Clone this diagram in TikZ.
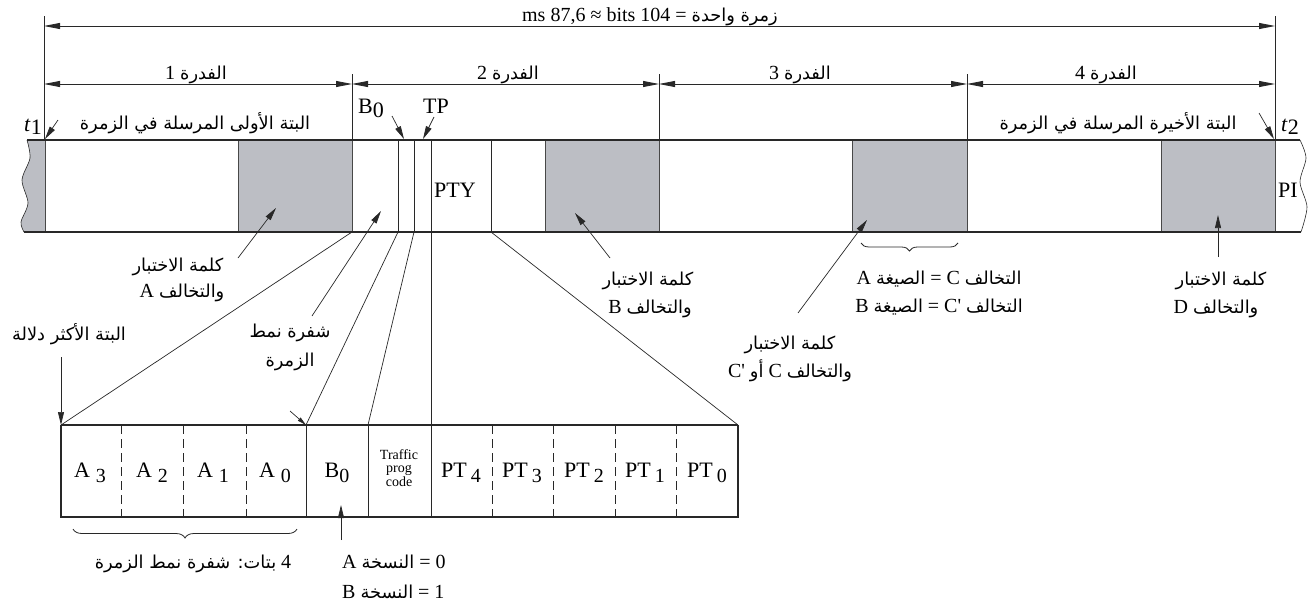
\documentclass[tikz,border=0pt]{standalone}
\usepackage{fontspec}
\setmainfont{Liberation Serif}
\newfontfamily\arabicfont[Script=Arabic,Scale=0.89]{DejaVu Sans}
\TeXXeTstate=1
\usetikzlibrary{arrows.meta,decorations.pathreplacing}
\newcommand{\artext}[1]{{\arabicfont\beginR #1\endR}}
\newcommand{\lowsub}[3]{#1\hspace{#3}\raisebox{-5pt}{\fontsize{20}{20}\selectfont #2}}
\newcommand{\sq}{\textquotesingle}
\definecolor{cellgrey}{RGB}{188,190,196}
\definecolor{ink}{RGB}{40,40,40}
\begin{document}
\begin{tikzpicture}[x=1pt,y=-1pt,
  dimline/.style={draw=ink, line width=0.8pt, {Triangle[length=16pt,width=6pt]}-{Triangle[length=16pt,width=6pt]}},
  ptr/.style={draw=ink, line width=0.7pt, -{Triangle[length=13pt,width=6pt]}},
  thinline/.style={draw=ink, line width=0.7pt},
  cellline/.style={draw=ink!85, line width=0.8pt},
  dashline/.style={draw=ink, line width=0.7pt, dash pattern=on 9pt off 5pt},
  lbl/.style={inner sep=0pt, anchor=base, font=\fontsize{20}{24}\selectfont},
  big/.style={inner sep=0pt, anchor=base, font=\fontsize{22}{26}\selectfont},
]
\useasboundingbox (0,0) rectangle (1312,608);

% ---------- top dimension ----------
\node[lbl] (total) at (650,21) {ms 87,6 ≈ bits 104 = \artext{زمرة واحدة}};
\coordinate (d0) at (44,26);
\coordinate (d4) at (1275,26);
\draw[dimline] (d0) -- (d4);
\coordinate (e0t) at (44,16);  \coordinate (e0b) at (44,140);
\coordinate (e4t) at (1275,16); \coordinate (e4b) at (1275,140);
\draw[thinline] (e0t) -- (e0b);
\draw[thinline] (e4t) -- (e4b);

% ---------- block dimensions ----------
\coordinate (s0) at (44,84);
\coordinate (s1) at (352,84);
\coordinate (s2) at (659,84);
\coordinate (s3) at (967,84);
\coordinate (s4) at (1275,84);
\draw[dimline] (s0) -- (s1);
\draw[dimline] (s1) -- (s2);
\draw[dimline] (s2) -- (s3);
\draw[dimline] (s3) -- (s4);
\foreach \x in {352,659,967} { \draw[thinline] (\x,74) -- (\x,140); }
\node[lbl] (blk1) at (196,79) {1 \artext{الفدرة}};
\node[lbl] (blk2) at (508,79) {2 \artext{الفدرة}};
\node[lbl] (blk3) at (800,79) {3 \artext{الفدرة}};
\node[lbl] (blk4) at (1106,79) {4 \artext{الفدرة}};

% ---------- band ----------
\fill[cellgrey] plot[smooth] coordinates {(27,140) (30,158) (22,180) (28,203) (21,222) (24,232)} -- (45,232) -- (45,140) -- cycle;
\draw[ink, line width=0.6pt] plot[smooth] coordinates {(27,140) (30,158) (22,180) (28,203) (21,222) (24,232)};
\fill[cellgrey] (238,140) rectangle (352,232);
\fill[cellgrey] (545,140) rectangle (659,232);
\fill[cellgrey] (852,140) rectangle (967,232);
\fill[cellgrey] (1161,140) rectangle (1275,232);
\foreach \x in {45,238,352,545,659,852,967,1161,1275} { \draw[cellline] (\x,140) -- (\x,232); }
\foreach \x in {398,414,431,491} { \draw[thinline] (\x,140) -- (\x,232); }
\draw[ink, line width=0.6pt] plot[smooth] coordinates {(1300,140) (1306,158) (1300,182) (1307,207) (1301,232)};
\draw[ink, line width=2.6pt] (27,140) -- (1300,140);
\draw[ink, line width=2.6pt] (24,232) -- (1301,232);
\node[big] (pty) at (455,197) {PTY};
\node[big] (pi) at (1288,197) {PI};

% ---------- labels above band ----------
\node[big] (t1) at (33,131) {\textit{t}\raisebox{-3pt}{1}};
\coordinate (t1a) at (58,120); \coordinate (t1b) at (45,139);
\draw[ptr] (t1a) -- (t1b);
\node[lbl] (first) at (195,129) {\artext{البتة الأولى المرسلة في الزمرة}};
\node[big] (b0top) at (371,113) {B\raisebox{-4pt}{0}};
\coordinate (b0a) at (392,116); \coordinate (b0b) at (404,139);
\draw[ptr] (b0a) -- (b0b);
\node[big] (tp) at (436,113) {TP};
\coordinate (tpa) at (434,117); \coordinate (tpb) at (423,139);
\draw[ptr] (tpa) -- (tpb);
\node[lbl] (last) at (1118,129) {\artext{البتة الأخيرة المرسلة في الزمرة}};
\node[big] (t2) at (1290,131) {\textit{t}\raisebox{-3pt}{2}};
\coordinate (t2a) at (1259,113); \coordinate (t2b) at (1274,139);
\draw[ptr] (t2a) -- (t2b);

% ---------- labels below band ----------
\node[lbl] (ckA1) at (178,271) {\artext{كلمة الاختبار}};
\node[lbl] (ckA2) at (182,297) {A \artext{والتخالف}};
\coordinate (pA0) at (238,258); \coordinate (pA1) at (276,208);
\draw[ptr] (pA0) -- (pA1);

\node[lbl] (gt1) at (290,337) {\artext{شفرة نمط}};
\node[lbl] (gt2) at (290,366) {\artext{الزمرة}};
\coordinate (pG0) at (312,316); \coordinate (pG1) at (381,211);
\draw[ptr] (pG0) -- (pG1);

\node[lbl] (ckB1) at (648,285) {\artext{كلمة الاختبار}};
\node[lbl] (ckB2) at (650,313) {B \artext{والتخالف}};
\coordinate (pB0) at (610,258); \coordinate (pB1) at (575,213);
\draw[ptr] (pB0) -- (pB1);

\coordinate (brL) at (861,243); \coordinate (brR) at (958,243);
\draw[ink, line width=0.8pt, decorate, decoration={brace, amplitude=8pt, mirror}] (brL) -- (brR);
\node[lbl] (fmt1) at (939,284) {A \artext{الصيغة} = C \artext{التخالف}};
\node[lbl] (fmt2) at (939,312) {B \artext{الصيغة} = C\sq{} \artext{التخالف}};

\node[lbl] (ckC1) at (790,349) {\artext{كلمة الاختبار}};
\node[lbl] (ckC2) at (790,377) {C\sq{} \artext{أو} C \artext{والتخالف}};
\coordinate (pC0) at (798,313); \coordinate (pC1) at (867,220);
\draw[ptr] (pC0) -- (pC1);

\node[lbl] (ckD1) at (1221,285) {\artext{كلمة الاختبار}};
\node[lbl] (ckD2) at (1216,313) {D \artext{والتخالف}};
\coordinate (pD0) at (1218,257); \coordinate (pD1) at (1218,215);
\draw[ptr] (pD0) -- (pD1);

% ---------- expansion lines ----------
\coordinate (x1) at (352,232); \coordinate (f1) at (61,425);
\coordinate (x2) at (398,232); \coordinate (f2) at (306,425);
\coordinate (x3) at (414,232); \coordinate (f3) at (368,425);
\coordinate (x4) at (431,232); \coordinate (f4) at (431,425);
\coordinate (x5) at (491,232); \coordinate (f5) at (738,425);
\draw[thinline] (x1) -- (f1);
\draw[thinline] (x2) -- (f2);
\draw[thinline] (x3) -- (f3);
\draw[thinline] (x4) -- (f4);
\draw[thinline] (x5) -- (f5);

\node[lbl] (msb) at (69,340) {\artext{البتة الأكثر دلالة}};
\coordinate (pM0) at (61,357);
\draw[ptr] (pM0) -- (f1);
\coordinate (pS0) at (290,411);
\draw[ptr, -{Triangle[length=9pt,width=4pt]}] (pS0) -- (f2);

% ---------- expanded frame ----------
\foreach \x in {121,183,246,492,553,615,676} { \draw[dashline] (\x,425) -- (\x,517); }
\foreach \x in {306,368,431} { \draw[thinline] (\x,425) -- (\x,517); }
\draw[ink, line width=1.2pt] (61,425) -- (738,425);
\draw[ink, line width=2.4pt] (61,425) -- (61,517) -- (738,517) -- (738,425);

\node[big] (a3) at (90,477) {\lowsub{A}{3}{6pt}};
\node[big] (a2) at (152,477) {\lowsub{A}{2}{6pt}};
\node[big] (a1) at (213,477) {\lowsub{A}{1}{6pt}};
\node[big] (a0) at (275,477) {\lowsub{A}{0}{6pt}};
\node[big] (b0) at (337,477) {B\raisebox{-5pt}{\fontsize{20}{20}\selectfont 0}};
\node[inner sep=0pt, align=center, font=\fontsize{14}{13.5}\selectfont] (tpc) at (399,468) {Traffic\\prog\\code};
\node[big] (pt4) at (461,477) {\lowsub{PT}{4}{4pt}};
\node[big] (pt3) at (522,477) {\lowsub{PT}{3}{4pt}};
\node[big] (pt2) at (584,477) {\lowsub{PT}{2}{4pt}};
\node[big] (pt1) at (645,477) {\lowsub{PT}{1}{4pt}};
\node[big] (pt0) at (707,477) {\lowsub{PT}{0}{4pt}};

\coordinate (brAL) at (73,529); \coordinate (brAR) at (297,529);
\draw[ink, line width=0.8pt, decorate, decoration={brace, amplitude=9pt, mirror}] (brAL) -- (brAR);
\node[lbl] (bits4) at (193,568) {\artext{بتات: شفرة نمط الزمرة} 4};

\coordinate (pV0) at (341,540); \coordinate (pV1) at (341,505);
\draw[ptr] (pV0) -- (pV1);
\node[lbl, anchor=base west] (verA) at (342,568) {A \artext{النسخة} = 0};
\node[lbl, anchor=base west] (verB) at (342,598) {B \artext{النسخة} = 1};
\end{tikzpicture}
\end{document}
